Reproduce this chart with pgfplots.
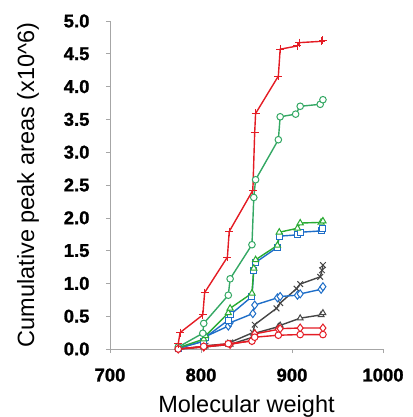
\documentclass[border=0pt]{standalone}
\usepackage{pgfplots}
\pgfplotsset{compat=1.18}
\usepackage{fontspec}
\setmainfont{Liberation Sans}
\newfontfamily\tickfont{Liberation Sans Bold}[FakeBold=1.2]
\definecolor{cred}{RGB}{228,28,36}
\definecolor{cgreenc}{RGB}{52,168,100}
\definecolor{cgreent}{RGB}{40,170,50}
\definecolor{cblue}{RGB}{30,110,200}
\definecolor{cgray}{RGB}{70,70,70}
\begin{document}
\begin{tikzpicture}
\begin{axis}[
  scale only axis, width=273pt, height=328pt,
  xmin=700, xmax=1000, ymin=0, ymax=5,
  xtick={700,800,900,1000}, ytick={0,0.5,...,5},
  xticklabels={700,800,900,1000},
  yticklabels={0.0,0.5,1.0,1.5,2.0,2.5,3.0,3.5,4.0,4.5,5.0},
  axis lines=left, axis line style={draw=gray!70, -},
  tick style={draw=gray!70, line width=0.6pt}, tick align=outside,
  major tick length=4pt,
  tick label style={font=\fontsize{18.5}{20}\tickfont},
  yticklabel style={xshift=-13pt},
  xticklabel style={yshift=-12pt},
  xlabel={Molecular weight}, ylabel={Cumulative peak areas (x10\textasciicircum 6)},
  label style={font=\fontsize{23.5}{25}\selectfont},
  xlabel style={yshift=-7pt},
  ylabel style={yshift=18pt},
  every axis plot/.append style={line width=1.4pt, mark size=3.3pt, mark options={solid, fill=white, line width=1pt}},
  clip=false,
]
% gray triangles
\addplot[cgray, mark=triangle*] coordinates {(775,0) (803,0.03) (832,0.07) (857,0.18) (859,0.24) (885,0.34) (887,0.36) (909,0.47) (932,0.52) (934,0.55)};
% gray x
\addplot[cgray, mark=x, mark size=4pt] coordinates {(775,0) (803,0.04) (805,0.05) (830,0.08) (832,0.1) (857,0.25) (859,0.37) (883,0.62) (887,0.70) (905,0.92) (909,0.99) (931,1.10) (933,1.20) (934,1.28)};
% blue diamonds
\addplot[cblue, mark=diamond*, mark size=4pt] coordinates {(775,0.01) (803,0.12) (805,0.19) (830,0.35) (832,0.40) (857,0.54) (859,0.67) (884,0.78) (887,0.80) (906,0.82) (909,0.84) (932,0.91) (934,0.95)};
% blue squares
\addplot[cblue, mark=square*, mark size=3pt] coordinates {(775,0.01) (803,0.12) (805,0.18) (830,0.44) (832,0.52) (856,0.80) (858,1.20) (860,1.32) (884,1.55) (886,1.72) (906,1.74) (909,1.78) (932,1.80) (934,1.83)};
% green triangles
\addplot[cgreent, mark=triangle*, mark size=3.6pt] coordinates {(775,0.02) (803,0.15) (805,0.20) (830,0.55) (832,0.62) (856,0.85) (858,1.23) (860,1.36) (884,1.58) (886,1.78) (906,1.84) (909,1.92) (932,1.93) (934,1.95)};
% green circles
\addplot[cgreenc, mark=*] coordinates {(775,0.03) (802,0.24) (803,0.39) (830,0.82) (832,1.07) (856,1.59) (858,2.31) (860,2.58) (885,3.19) (887,3.54) (904,3.58) (909,3.70) (931,3.73) (934,3.80)};
% red diamonds
\addplot[cred, mark=diamond*, mark size=4pt] coordinates {(775,0) (803,0.03) (832,0.07) (856,0.13) (859,0.23) (885,0.30) (887,0.31) (909,0.32) (934,0.32)};
% red circles
\addplot[cred, mark=*] coordinates {(775,0) (803,0.04) (830,0.08) (856,0.12) (859,0.18) (885,0.21) (909,0.22) (934,0.22)};
% red plus
\addplot[cred, mark=+, mark size=4pt] coordinates {(775,0.08) (777,0.25) (802,0.52) (804,0.86) (829,1.40) (831,1.79) (857,2.42) (859,3.30) (860,3.59) (885,4.16) (887,4.57) (906,4.62) (908,4.67) (932,4.69) (934,4.71)};
\end{axis}
\pgfresetboundingbox
\path (current axis.south west) ++(-110pt,-68pt) rectangle ++(412pt,417pt);
\end{tikzpicture}
\end{document}
